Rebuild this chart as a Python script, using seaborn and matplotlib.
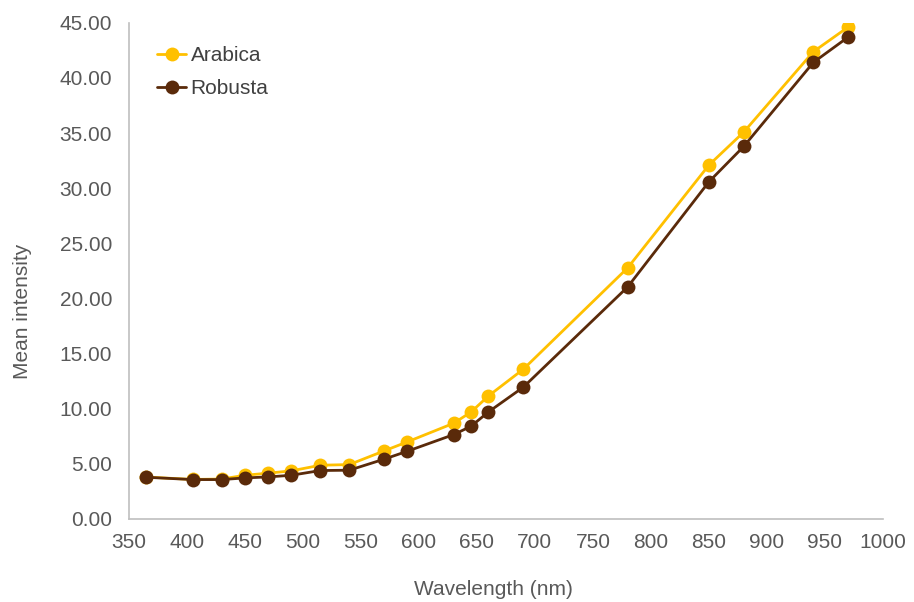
import pandas as pd
import seaborn as sns
import matplotlib.pyplot as plt
from matplotlib.ticker import FormatStrFormatter, MultipleLocator

# data
wavelength = [365, 405, 430, 450, 470, 490, 515, 540, 570, 590, 630, 645, 660, 690, 780, 850, 880, 940, 970]
arabica = [3.80, 3.58, 3.62, 3.96, 4.15, 4.36, 4.87, 4.93, 6.17, 6.99, 8.68, 9.70, 11.16, 13.58, 22.78, 32.10, 35.09, 42.38, 44.62]
robusta = [3.78, 3.57, 3.57, 3.72, 3.81, 3.96, 4.39, 4.42, 5.42, 6.14, 7.65, 8.41, 9.71, 11.95, 21.05, 30.58, 33.79, 41.41, 43.71]

df = pd.DataFrame({'wavelength': wavelength * 2,
                   'intensity': arabica + robusta,
                   'variety': ['Arabica'] * len(wavelength) + ['Robusta'] * len(wavelength)})

sns.set_style('white')
plt.rcParams['font.family'] = ['Liberation Sans', 'DejaVu Sans']

fig = plt.figure(figsize=(9.14, 6.02), dpi=100)
ax = fig.add_axes([0.141, 0.138, 0.825, 0.824])

sns.lineplot(data=df, x='wavelength', y='intensity', hue='variety',
             palette={'Arabica': '#FFC000', 'Robusta': '#5A2A0A'},
             marker='o', markersize=10, markeredgewidth=0, linewidth=2,
             ax=ax)

ax.set_xlim(350, 1000)
ax.set_ylim(0, 45)
ax.xaxis.set_major_locator(MultipleLocator(50))
ax.yaxis.set_major_locator(MultipleLocator(5))
ax.yaxis.set_major_formatter(FormatStrFormatter('%.2f'))
ax.tick_params(labelsize=15, colors='#595959', length=0)
ax.tick_params(axis='x', pad=10)
ax.tick_params(axis='y', pad=12)

for s in ['top', 'right']:
    ax.spines[s].set_visible(False)
for s in ['left', 'bottom']:
    ax.spines[s].set_color('#BFBFBF')
    ax.spines[s].set_linewidth(1.2)

ax.set_xlabel('Wavelength (nm)', fontsize=15, color='#595959', va='center')
ax.set_ylabel('Mean intensity', fontsize=15, color='#595959', va='center')
ax.xaxis.set_label_coords(0.484, -0.143)
ax.yaxis.set_label_coords(-0.141, 0.419)

leg = ax.legend(loc='upper left', bbox_to_anchor=(0.163, 0.937), bbox_transform=fig.transFigure,
                borderaxespad=0, frameon=False, fontsize=15,
                handlelength=1.4, handletextpad=0.2, labelspacing=0.65)
for t in leg.get_texts():
    t.set_color('#404040')

fig.savefig('out.png', dpi=100)
